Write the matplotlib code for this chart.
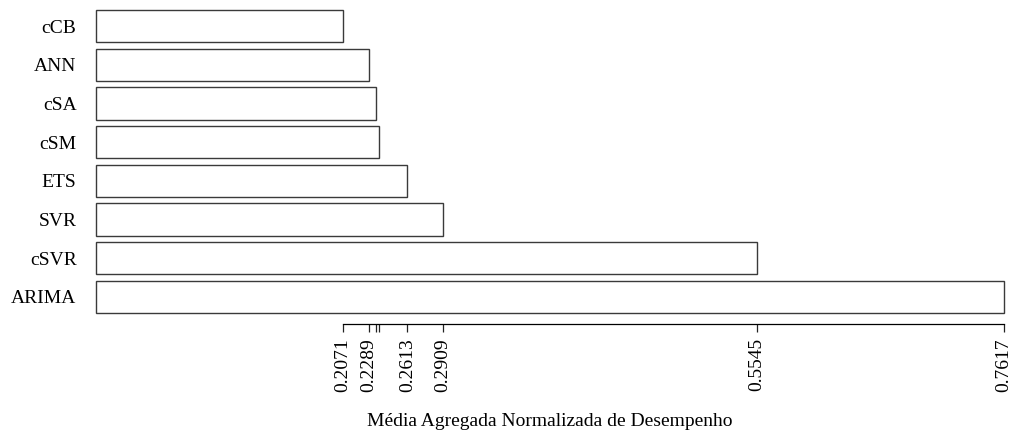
import matplotlib
matplotlib.use("Agg")
import matplotlib.pyplot as plt
import numpy as np

plt.rcParams["font.family"] = ["Liberation Serif", "DejaVu Serif"]

# data, top to bottom as in the reference
methods = ["cCB", "ANN", "cSA", "cSM", "ETS", "SVR", "cSVR", "ARIMA"]
scores = [0.2071, 0.2289, 0.2346, 0.2372, 0.2613, 0.2909, 0.5545, 0.7617]
tick_labels = ["0.2071", "0.2289", "", "", "0.2613", "0.2909", "0.5545", "0.7617"]

W, H = 1016, 432
fig = plt.figure(figsize=(W / 100, H / 100), dpi=100)
ax = fig.add_axes([96 / W, 1 - 313 / H, (1004 - 96) / W, (313 - 10) / H])

n = len(methods)
ypos = np.arange(n)[::-1]  # cCB at top
bar_h = 1 / 1.2
bars = ax.barh(ypos, scores, height=bar_h, color="white", edgecolor="#3a3a3a", linewidth=1.0)
for b in bars:
    b.set_clip_on(False)

ax.set_xlim(0, max(scores))
ax.set_ylim(-bar_h / 2, n - 1 + bar_h / 2)

# spine placement first: set_position resets the ticks
for s in ["top", "right", "left"]:
    ax.spines[s].set_visible(False)
ax.spines["bottom"].set_position(("outward", 8))
ax.spines["bottom"].set_bounds(scores[0], scores[-1])
ax.spines["bottom"].set_linewidth(0.9)

ax.set_yticks(ypos)
ax.set_yticklabels(methods, fontsize=14)
ax.tick_params(axis="y", length=0, pad=14)

ax.set_xticks(scores)
ax.set_xticklabels(tick_labels, rotation=90, fontsize=14)
ax.tick_params(axis="x", direction="out", length=6, width=0.9, pad=4, color="#222222")

ax.set_xlabel("Média Agregada Normalizada de Desempenho", fontsize=14, va="center")
ax.xaxis.set_label_coords(0.5, (313 - 421) / (313 - 10))

fig.savefig("out.png", dpi=100)
